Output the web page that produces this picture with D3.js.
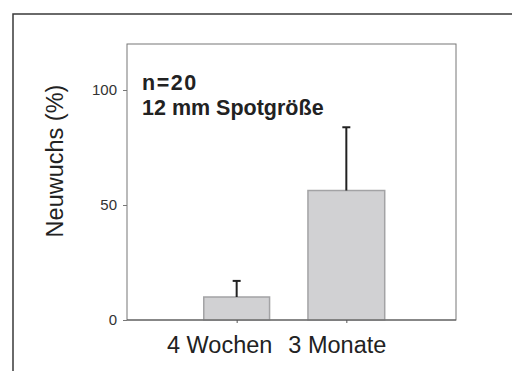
<!DOCTYPE html>
<html>
<head>
<meta charset="utf-8">
<script src="https://cdn.jsdelivr.net/npm/d3@7"></script>
<style>
  body { margin: 0; background: #fff; }
  svg { display: block; font-family: "Liberation Sans", Arial, Helvetica, sans-serif; }
</style>
</head>
<body>
<svg id="chart" width="512" height="371"></svg>
<script>
const categories = ["4 Wochen", "3 Monate"];
const means = [10, 56.3];
const errors = [7, 27.5];
const yTicks = [0, 50, 100];
const yLabel = "Neuwuchs (%)";
const notes = ["n=20", "12 mm Spotgröße"];

const BAR_FILL = "#d1d1d3";
const BAR_STROKE = "#a3a3a5";
const INK = "#222";

// layout
const margin = { left: 127, top: 44, right: 56, bottom: 51 };
const width = 512 - margin.left - margin.right,
  height = 371 - margin.top - margin.bottom;
const barFrac = [0.6, 0.7];
const labelShift = [-17, -9];
const noteSpacing = ["1.5px", "0px"];

const svg = d3.select("#chart");

// outer frame (only top and left show inside the window)
svg.append("path")
  .attr("d", "M13,371V14H512")
  .attr("fill", "none")
  .attr("stroke", "#3a3a3a")
  .attr("stroke-width", 1.5);

const g = svg.append("g")
  .attr("transform", `translate(${margin.left},${margin.top})`);

const x = d3.scalePoint().domain(categories).range([0, width]).padding(1);
const y = d3.scaleLinear().domain([0, 120]).range([height, 0]);
const step = x.step();

// plot box
g.append("rect")
  .attr("width", width)
  .attr("height", height)
  .attr("fill", "none")
  .attr("stroke", "#777")
  .attr("stroke-width", 1);

// bars
g.selectAll(".bar")
  .data(categories)
  .join("rect")
  .attr("class", "bar")
  .attr("x", (d, i) => x(d) - (step * barFrac[i]) / 2)
  .attr("width", (d, i) => step * barFrac[i])
  .attr("y", (d, i) => y(means[i]))
  .attr("height", (d, i) => y(0) - y(means[i]))
  .attr("fill", BAR_FILL)
  .attr("stroke", BAR_STROKE)
  .attr("stroke-width", 1.5);

// error bars (upper only)
const err = g.selectAll(".err")
  .data(categories)
  .join("g")
  .attr("class", "err");
err.append("line")
  .attr("x1", (d) => x(d))
  .attr("x2", (d) => x(d))
  .attr("y1", (d, i) => y(means[i]))
  .attr("y2", (d, i) => y(means[i] + errors[i]))
  .attr("stroke", INK)
  .attr("stroke-width", 2);
err.append("line")
  .attr("x1", (d) => x(d) - 4)
  .attr("x2", (d) => x(d) + 4)
  .attr("y1", (d, i) => y(means[i] + errors[i]))
  .attr("y2", (d, i) => y(means[i] + errors[i]))
  .attr("stroke", INK)
  .attr("stroke-width", 2);

// y axis
const yAxis = g.append("g")
  .call(d3.axisLeft(y).tickValues(yTicks).tickSize(4).tickPadding(6));
yAxis.select(".domain").remove();
yAxis.selectAll("line").attr("stroke", "#777");
yAxis.selectAll("text")
  .attr("fill", "#333")
  .style("font-size", "15px")
  .style("font-family", "'Liberation Sans', Arial, sans-serif");

// x axis
const xAxis = g.append("g")
  .attr("transform", `translate(0,${height})`)
  .call(d3.axisBottom(x).tickSize(3).tickFormat(""));
xAxis.select(".domain").attr("stroke", "#555").attr("d", `M0,0H${width}`);
xAxis.selectAll("line").attr("stroke", "#555");

g.selectAll(".xlab")
  .data(categories)
  .join("text")
  .attr("class", "xlab")
  .attr("x", (d, i) => x(d) + labelShift[i])
  .attr("y", height + 33)
  .attr("text-anchor", "middle")
  .attr("fill", INK)
  .style("font-size", "23.5px")
  .text((d) => d);

// y label
svg.append("text")
  .attr("transform", "translate(63,161) rotate(-90)")
  .attr("text-anchor", "middle")
  .attr("fill", INK)
  .style("font-size", "23.5px")
  .text(yLabel);

// annotation
g.selectAll(".note")
  .data(notes)
  .join("text")
  .attr("class", "note")
  .attr("x", 15)
  .attr("y", (d, i) => 46 + i * 25)
  .attr("fill", INK)
  .style("font-size", "21.5px")
  .style("font-weight", "bold")
  .style("letter-spacing", (d, i) => noteSpacing[i])
  .text((d) => d);
</script>
</body>
</html>
